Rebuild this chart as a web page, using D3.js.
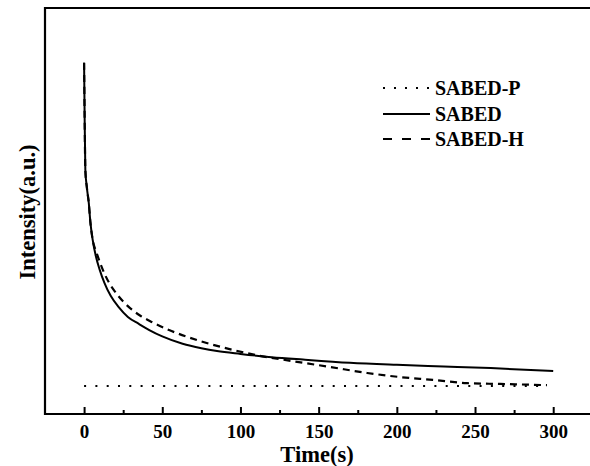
<!DOCTYPE html>
<html>
<head>
  <title>Intensity decay</title>
  <style>
    body { margin: 0; background: #fff; }
    text { font-family: "Liberation Serif", "Times New Roman", serif; font-weight: bold; fill: #000; }
  </style>
  <script src="https://d3js.org/d3.v7.min.js"></script>
</head>
<body>
  <div id="chart"></div>
  <script>
    // values (y in arbitrary units, 0..100)
    var sabedTime = [0, 0.3, 0.8, 1.8, 3, 4, 5.5, 7.5, 10, 13, 17, 22, 28, 35, 42, 50, 63, 75, 85, 100, 120, 140, 170, 200, 230, 260, 300];
    var sabedVal  = [86.5, 74.9, 60.1, 55.7, 52.0, 47.3, 42.9, 38.9, 35.5, 32.3, 29.1, 26.4, 23.9, 22.2, 20.6, 19.1, 17.3, 16.2, 15.5, 14.8, 14.0, 13.4, 12.6, 12.1, 11.7, 11.3, 10.6];

    var sabedHTime = [0, 0.3, 0.8, 1.8, 3, 4, 5.5, 8, 12, 16, 20, 26, 36, 42, 53, 74, 95, 117, 132, 157, 181, 202, 223, 245, 266, 296];
    var sabedHVal  = [86.5, 74.9, 60.1, 55.7, 52.0, 47.3, 42.9, 39.7, 35.5, 32.3, 30.0, 27.3, 24.2, 22.9, 20.9, 18.0, 15.8, 14.0, 13.1, 11.6, 10.1, 9.1, 8.4, 7.6, 7.4, 7.1];

    var sabedPTime = [0, 50, 100, 150, 200, 250, 296];
    var sabedPVal  = [6.9, 6.9, 6.9, 6.9, 6.9, 6.9, 6.9];

    var majorTicks = [0, 50, 100, 150, 200, 250, 300];
    var minorTicks = [25, 75, 125, 175, 225, 275];

    var legendNames = ["SABED-P", "SABED", "SABED-H"];
    var legendDash = ["2,9", null, "9,10"];

    var W = 590, H = 466;
    var plotLeft = 45, plotTop = 8, plotBottom = 414;

    var svg = d3.select("#chart").append("svg")
      .attr("width", W)
      .attr("height", H);

    var x = d3.scaleLinear().domain([-25, 325]).range([plotLeft, 592.3]);
    var y = d3.scaleLinear().domain([0, 100]).range([plotBottom, plotTop]);

    // frame (right edge falls outside the window)
    svg.append("path")
      .attr("d", "M" + x(325) + "," + plotTop + "H" + plotLeft + "V" + plotBottom + "H" + x(325))
      .attr("fill", "none")
      .attr("stroke", "#000")
      .attr("stroke-width", 2.2);

    // x axis, ticks pointing inward
    var xAxis = svg.append("g")
      .attr("transform", "translate(0," + plotBottom + ")")
      .call(d3.axisBottom(x).tickValues(majorTicks).tickSize(-7).tickPadding(11).tickSizeOuter(0));
    xAxis.select(".domain").remove();
    xAxis.selectAll("line").attr("stroke-width", 2);
    xAxis.selectAll("text")
      .style("font-family", "'Liberation Serif', serif")
      .style("font-weight", "bold")
      .style("font-size", "19px");

    var xMinor = svg.append("g")
      .attr("transform", "translate(0," + plotBottom + ")")
      .call(d3.axisBottom(x).tickValues(minorTicks).tickSize(-4).tickFormat("").tickSizeOuter(0));
    xMinor.select(".domain").remove();
    xMinor.selectAll("line").attr("stroke-width", 2);

    // axis titles
    svg.append("text")
      .attr("x", 317)
      .attr("y", 462)
      .attr("text-anchor", "middle")
      .style("font-size", "22.5px")
      .text("Time(s)");

    svg.append("text")
      .attr("transform", "translate(35,212) rotate(-90)")
      .attr("text-anchor", "middle")
      .style("font-size", "22.5px")
      .text("Intensity(a.u.)");

    function toPoints(ts, vs) {
      return ts.map(function(t, i) { return [t, vs[i]]; });
    }

    var line = d3.line()
      .x(function(d) { return x(d[0]); })
      .y(function(d) { return y(d[1]); })
      .curve(d3.curveMonotoneX);

    var series = [
      { pts: toPoints(sabedPTime, sabedPVal), dash: "2,9.3", width: 2.2 },
      { pts: toPoints(sabedHTime, sabedHVal), dash: "7,5", width: 2.2 },
      { pts: toPoints(sabedTime, sabedVal), dash: null, width: 2 }
    ];

    series.forEach(function(s) {
      svg.append("path")
        .datum(s.pts)
        .attr("d", line)
        .attr("fill", "none")
        .attr("stroke", "#000")
        .attr("stroke-width", s.width)
        .attr("stroke-dasharray", s.dash);
    });

    // legend
    var legendY = [88, 114, 139];
    legendNames.forEach(function(name, i) {
      svg.append("line")
        .attr("x1", 383).attr("x2", 430)
        .attr("y1", legendY[i]).attr("y2", legendY[i])
        .attr("stroke", "#000")
        .attr("stroke-width", 2)
        .attr("stroke-dasharray", legendDash[i]);
      svg.append("text")
        .attr("x", 435)
        .attr("y", legendY[i] + 7)
        .style("font-size", "20px")
        .text(name);
    });
  </script>
</body>
</html>
